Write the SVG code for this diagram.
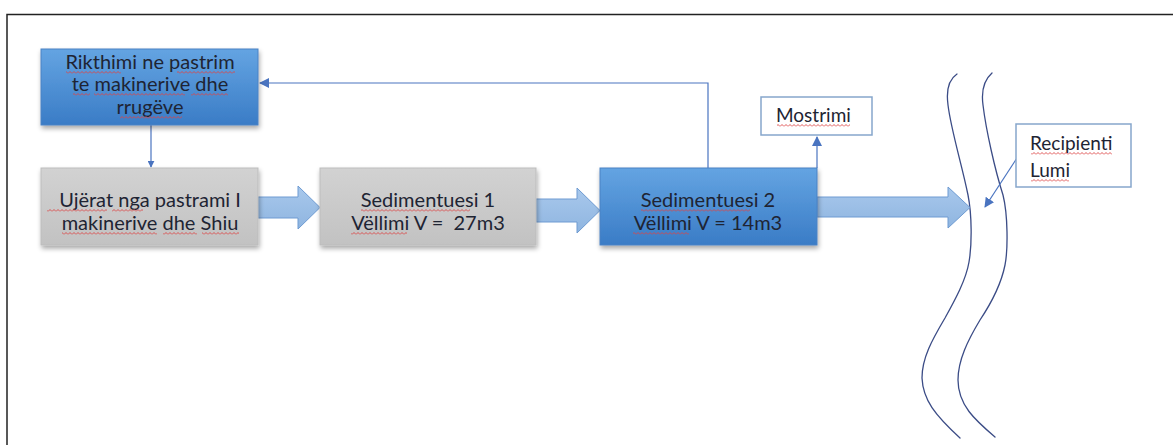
<svg xmlns="http://www.w3.org/2000/svg" width="1173" height="445" viewBox="0 0 1173 445">
<style>
.t{font-family:Lato,"Open Sans","Liberation Sans",sans-serif;font-size:20px;fill:#1e2433;text-anchor:middle}
.s{font-size:19px}
.l{text-anchor:start}
.conn{fill:none;stroke:#4a74c0;stroke-width:1.2}
.blk{fill:url(#ga);stroke:#6e9bd2;stroke-width:1}
.river{fill:none;stroke:#3b4c86;stroke-width:1.3;stroke-linecap:round}
.plain{fill:#fff;stroke:#86a6cc;stroke-width:1.5}
.sq{fill:url(#wv)}
</style>
<defs>
<linearGradient id="gb" x1="0" y1="0" x2="0" y2="1"><stop offset="0" stop-color="#64a4e2"/><stop offset="1" stop-color="#3a7cc6"/></linearGradient>
<linearGradient id="gg" x1="0" y1="0" x2="0" y2="1"><stop offset="0" stop-color="#d2d2d2"/><stop offset="1" stop-color="#c2c2c2"/></linearGradient>
<linearGradient id="ga" x1="0" y1="0" x2="0" y2="1"><stop offset="0" stop-color="#a8c8ec"/><stop offset="1" stop-color="#8fb5e0"/></linearGradient>
<pattern id="wv" patternUnits="userSpaceOnUse" x="0" y="0" width="4" height="3"><path d="M0,2.5 L2,0.5 L4,2.5" fill="none" stroke="#dc4545" stroke-width="0.9"/></pattern>
<filter id="sh" x="-10%" y="-10%" width="125%" height="135%"><feGaussianBlur in="SourceAlpha" stdDeviation="2.5"/><feOffset dx="1" dy="3"/><feComponentTransfer><feFuncA type="linear" slope="0.35"/></feComponentTransfer><feMerge><feMergeNode/><feMergeNode in="SourceGraphic"/></feMerge></filter>
<marker id="ah" viewBox="0 0 10 10" refX="9" refY="5" markerWidth="7" markerHeight="7" markerUnits="userSpaceOnUse" orient="auto"><path d="M0,0 L10,5 L0,10 z" fill="#4a74c0"/></marker>
<marker id="ahb" viewBox="0 0 10 10" refX="9" refY="5" markerWidth="10" markerHeight="10" markerUnits="userSpaceOnUse" orient="auto"><path d="M0,0 L10,5 L0,10 z" fill="#4a74c0"/></marker>
</defs>
<rect width="1173" height="445" fill="#fff"/>
<rect x="7" y="14.5" width="1250" height="500" fill="none" stroke="#222" stroke-width="1.5"/>

<g id="river">
<path class="river" d="M957,74 C948,80 946,90 948,105 C951,130 962,165 968,195 C972,215 972,245 969,262 C966,280 955,300 945,318 C932,340 922,358 922,378 C923,400 935,415 960,438"/>
<path class="river" d="M992,73 C984,80 981,90 983,105 C986,130 995,170 1003,195 C1008,215 1008,250 1005,265 C1001,285 990,305 980,320 C968,340 958,360 958,380 C958,405 975,420 995,437"/>
</g>

<g id="connectors">
<polygon class="blk" points="258,197 298,197 298,186 320,207.5 298,229 298,218 258,218"/>
<polygon class="blk" points="536,199 577,199 577,188 600,210.5 577,233 577,222 536,222"/>
<polygon class="blk" points="817,197 948,197 948,187 970,207.5 948,228 948,217 817,217"/>
<path class="conn" d="M708,168 L708,83 L260,83" marker-end="url(#ahb)"/>
<path class="conn" d="M151,125 L151,167" marker-end="url(#ah)"/>
<path class="conn" d="M817,168 L817,137" marker-end="url(#ahb)"/>
<path class="conn" d="M1017,158 L985,207" marker-end="url(#ahb)"/>
</g>

<g id="n-rikthimi">
<rect x="41" y="49" width="217" height="76" fill="url(#gb)" stroke="#4a82c4" filter="url(#sh)"/>
<text class="t" x="150" y="69">Rikthimi ne pastrim</text>
<text class="t" x="150" y="91">te makinerive dhe</text>
<text class="t" x="150" y="114">rrugëve</text>
<g transform="translate(0,71)"><rect class="sq" x="66" width="55" height="3"/><rect class="sq" x="177" width="58" height="3"/></g>
<g transform="translate(0,93)"><rect class="sq" x="73" width="17" height="3"/><rect class="sq" x="94" width="91" height="3"/><rect class="sq" x="191" width="37" height="3"/></g>
<g transform="translate(0,116)"><rect class="sq" x="120" width="62" height="3"/></g>
</g>

<g id="n-ujerat">
<rect x="41" y="168" width="217" height="77" fill="url(#gg)" stroke="#bdbdbd" filter="url(#sh)"/>
<text class="t" x="150" y="207">Ujërat nga pastrami I</text>
<text class="t" x="150" y="230">makinerive dhe Shiu</text>
<g transform="translate(0,209)"><rect class="sq" x="47" width="60" height="3"/><rect class="sq" x="112" width="31" height="3"/></g>
<g transform="translate(0,232)"><rect class="sq" x="62" width="95" height="3"/><rect class="sq" x="163" width="34" height="3"/><rect class="sq" x="202" width="37" height="3"/></g>
</g>

<g id="n-sed1">
<rect x="320" y="168" width="216" height="77" fill="url(#gg)" stroke="#bdbdbd" filter="url(#sh)"/>
<text class="t" x="428" y="207">Sedimentuesi 1</text>
<text class="t" x="428" y="230" xml:space="preserve">Vëllimi V =  27m3</text>
<g transform="translate(0,209)"><rect class="sq" x="361" width="109" height="3"/></g>
<g transform="translate(0,232)"><rect class="sq" x="351" width="56" height="3"/></g>
</g>

<g id="n-sed2">
<rect x="600" y="168" width="217" height="77" fill="url(#gb)" stroke="#4a82c4" filter="url(#sh)"/>
<text class="t" x="708" y="207">Sedimentuesi 2</text>
<text class="t" x="708" y="230">Vëllimi V = 14m3</text>
<g transform="translate(0,209)"><rect class="sq" x="641" width="109" height="3"/></g>
<g transform="translate(0,232)"><rect class="sq" x="633" width="56" height="3"/></g>
</g>

<g id="n-mostrimi">
<rect class="plain" x="761" y="97" width="111" height="38"/>
<text class="t s l" x="776" y="122">Mostrimi</text>
<g transform="translate(0,124)"><rect class="sq" x="777" width="73" height="3"/></g>
</g>

<g id="n-recipienti">
<rect class="plain" x="1016" y="124" width="115" height="63"/>
<text class="t s l" x="1030" y="150">Recipienti</text>
<text class="t s l" x="1030" y="177">Lumi</text>
<g transform="translate(0,152)"><rect class="sq" x="1031" width="81" height="3"/></g>
<g transform="translate(0,179)"><rect class="sq" x="1031" width="38" height="3"/></g>
</g>
</svg>
